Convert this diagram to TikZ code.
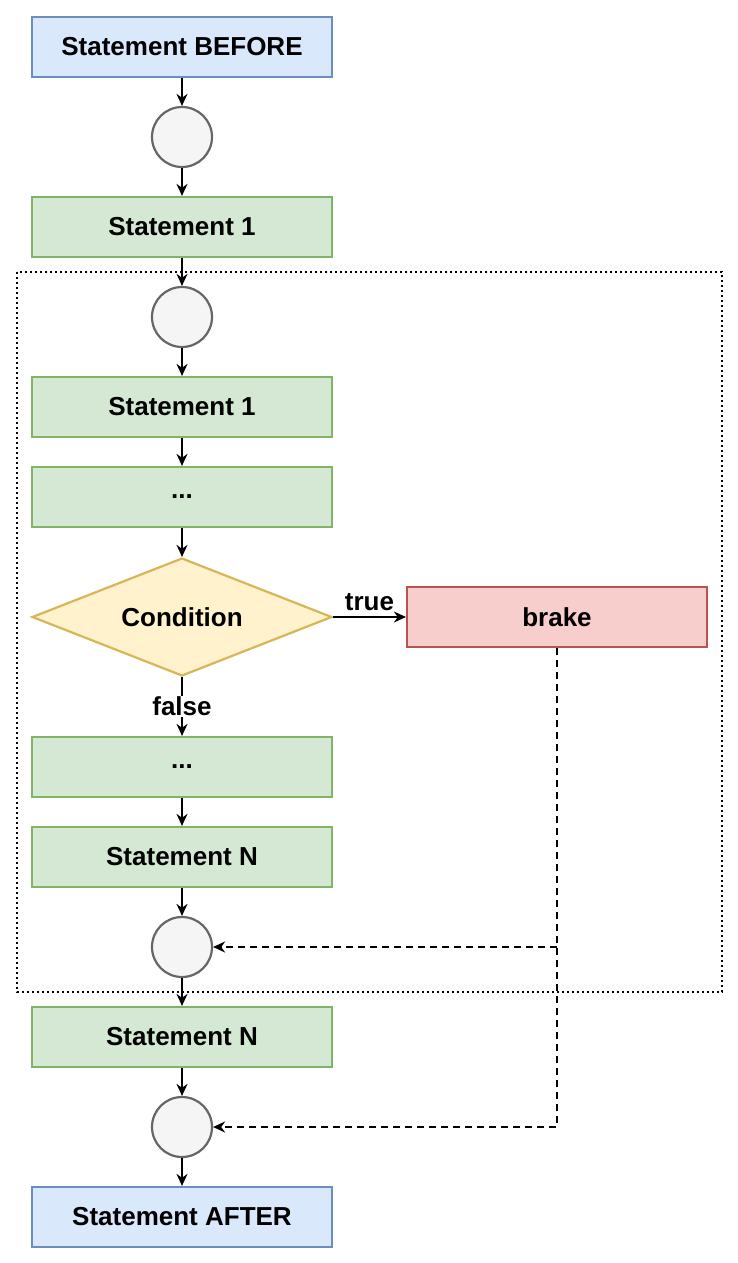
\documentclass[tikz,border=0pt]{standalone}
\usepackage{fontspec}
\setmainfont{Liberation Sans}
\usetikzlibrary{shapes.geometric,arrows.meta}
\definecolor{bF}{HTML}{DAE8FC}\definecolor{bS}{HTML}{6C8EBF}
\definecolor{gF}{HTML}{D5E8D4}\definecolor{gS}{HTML}{82B366}
\definecolor{yF}{HTML}{FFF2CC}\definecolor{yS}{HTML}{D6B656}
\definecolor{rF}{HTML}{F8CECC}\definecolor{rS}{HTML}{B85450}
\definecolor{cF}{HTML}{F5F5F5}\definecolor{cS}{HTML}{666666}
\begin{document}
\begin{tikzpicture}[x=1pt,y=-1pt,
  font=\fontsize{26}{30}\selectfont\bfseries,
  box/.style={draw, line width=2.2pt, minimum width=300pt, minimum height=60pt, inner sep=0pt},
  blue/.style={box, fill=bF, draw=bS},
  green/.style={box, fill=gF, draw=gS},
  circ/.style={circle, draw=cS, fill=cF, line width=2.2pt, minimum size=60pt, inner sep=0pt},
  arr/.style={-{Stealth[length=12pt,width=11pt]}, line width=1.8pt},
  dar/.style={arr, dash pattern=on 7pt off 5pt}]
\useasboundingbox (0,0) rectangle (738,1263);
\draw[line width=2pt, dash pattern=on 2pt off 3pt] (17,272) rectangle (722,992);
\node[blue] (b) at (182,47) {Statement BEFORE};
\node[circ] (c1) at (182,137) {};
\node[green] (s1) at (182,227) {Statement 1};
\node[circ] (c2) at (182,317) {};
\node[green] (s1b) at (182,407) {Statement 1};
\node[green] (d1) at (182,497) {...};
\node[diamond, aspect=2.54, draw=yS, fill=yF, line width=2.2pt, minimum width=300pt, minimum height=118pt, inner sep=0pt] (cond) at (182,617) {Condition};
\node[box, fill=rF, draw=rS] (br) at (557,617) {brake};
\node[green] (d2) at (182,767) {...};
\node[green] (sn) at (182,857) {Statement N};
\node[circ] (c3) at (182,947) {};
\node[green] (sn2) at (182,1037) {Statement N};
\node[circ] (c4) at (182,1127) {};
\node[blue] (a) at (182,1217) {Statement AFTER};
\draw[arr] (b) -- (c1);
\draw[arr] (c1) -- (s1);
\draw[arr] (s1) -- (c2);
\draw[arr] (c2) -- (s1b);
\draw[arr] (s1b) -- (d1);
\draw[arr] (d1) -- (cond);
\draw[arr] (cond) -- node[above, yshift=2pt] (t) {true} (br);
\draw[arr] (cond) -- node[fill=white, inner sep=1pt] (f) {false} (d2);
\draw[arr] (d2) -- (sn);
\draw[arr] (sn) -- (c3);
\draw[arr] (c3) -- (sn2);
\draw[arr] (sn2) -- (c4);
\draw[arr] (c4) -- (a);
\coordinate (j) at (557,947);
\draw[dar] (br.south) |- (c4);
\draw[dar] (j) -- (c3);
\end{tikzpicture}
\end{document}
